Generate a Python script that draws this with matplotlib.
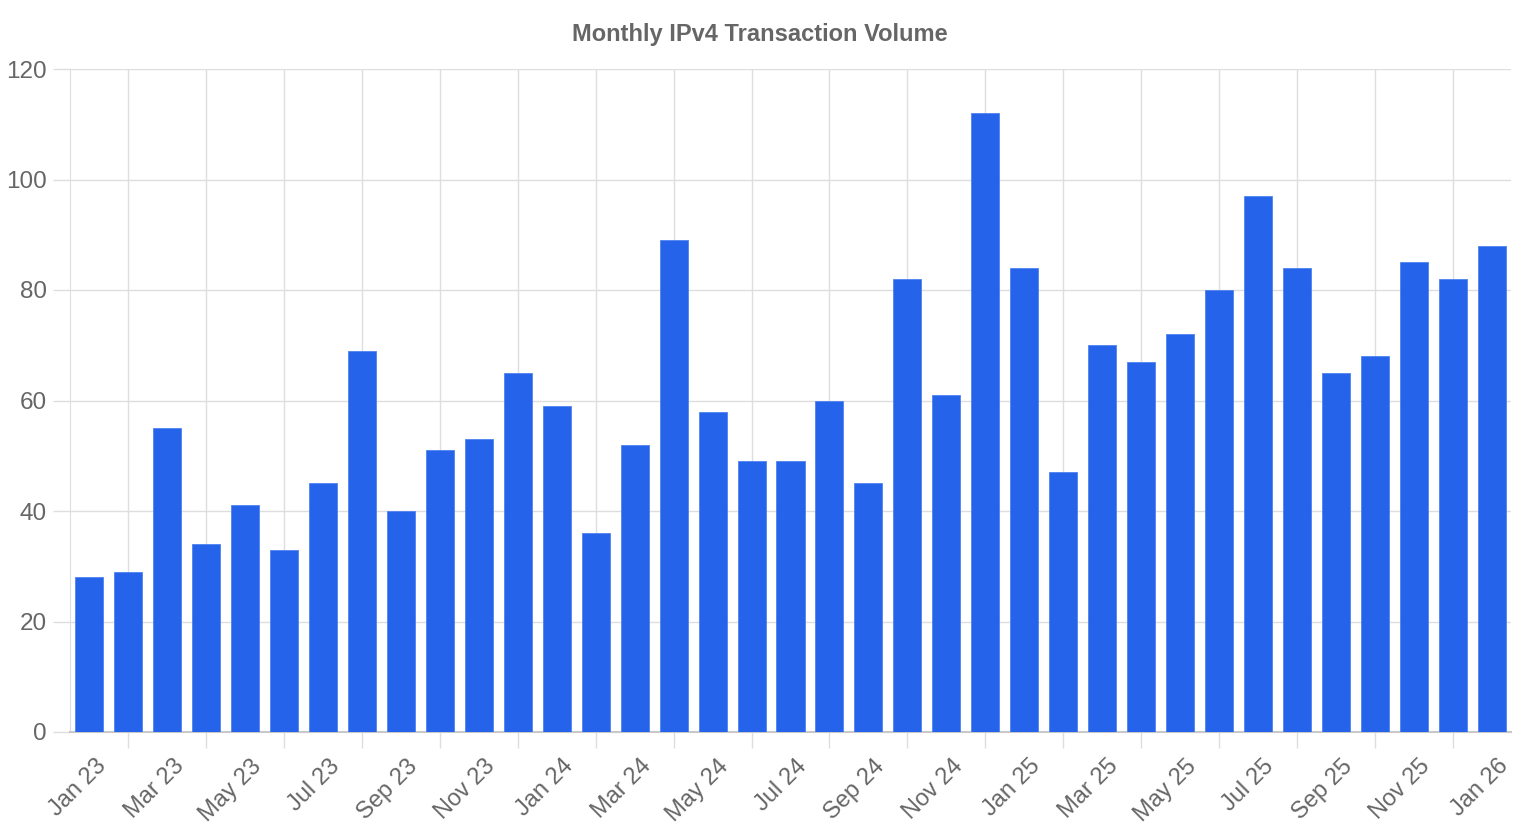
import matplotlib.pyplot as plt
import matplotlib.transforms as mtransforms
import numpy as np

months = ['Jan', 'Feb', 'Mar', 'Apr', 'May', 'Jun',
          'Jul', 'Aug', 'Sep', 'Oct', 'Nov', 'Dec']
labels = [f'{m} {y}' for y in ('23', '24', '25') for m in months] + ['Jan 26']

volume = [28, 29, 55, 34, 41, 33, 45, 69, 40, 51, 53, 65,
          59, 36, 52, 89, 58, 49, 49, 60, 45, 82, 61, 112,
          84, 47, 70, 67, 72, 80, 97, 84, 65, 68, 85, 82,
          88]

BAR_COLOR = '#2563eb'
GRID_COLOR = '#dedede'
TEXT_COLOR = '#666666'

plt.rcParams['font.family'] = ['Liberation Sans', 'DejaVu Sans']

fig = plt.figure(figsize=(15.2, 8.4), dpi=100)
ax = fig.add_axes([70 / 1520, 108 / 840, 1441 / 1520, 663 / 840])

x = np.arange(len(volume))
ax.bar(x, volume, width=0.72, color=BAR_COLOR, edgecolor='#4f83f0',
       linewidth=0.6, zorder=3)

ax.set_xlim(-0.5, len(volume) - 0.5)
ax.set_ylim(0, 120)

# y axis
ax.set_yticks(np.arange(0, 121, 20))
ax.tick_params(axis='y', length=12, color=GRID_COLOR, width=1,
               labelsize=17.5, labelcolor=TEXT_COLOR, pad=4.5)
ax.grid(axis='y', color=GRID_COLOR, linewidth=1, zorder=0)

# x axis: labels every other month, grid lines in between
ax.set_xticks(x[::2])
ax.set_xticklabels(labels[::2], rotation=45, ha='right', va='center',
                   rotation_mode='anchor', fontsize=17, color=TEXT_COLOR)
ax.tick_params(axis='x', which='major', length=0, pad=0)
ax.set_xticks(x[1::2], minor=True)
ax.tick_params(axis='x', which='minor', length=11.5, color=GRID_COLOR, width=1)
ax.grid(axis='x', which='minor', color=GRID_COLOR, linewidth=1, zorder=0)

offset = mtransforms.ScaledTranslation(0.13, -0.31, fig.dpi_scale_trans)
for lab in ax.get_xticklabels():
    lab.set_transform(lab.get_transform() + offset)

for side in ('top', 'right'):
    ax.spines[side].set_visible(False)
ax.spines['left'].set_color(GRID_COLOR)
ax.spines['bottom'].set_color('#c8c8c8')
ax.spines['bottom'].set_linewidth(1.5)

fig.text(0.5, 1 - 34 / 840, 'Monthly IPv4 Transaction Volume',
         ha='center', va='center', fontsize=17, fontweight='bold',
         color=TEXT_COLOR)

fig.savefig('out.png', dpi=100)
